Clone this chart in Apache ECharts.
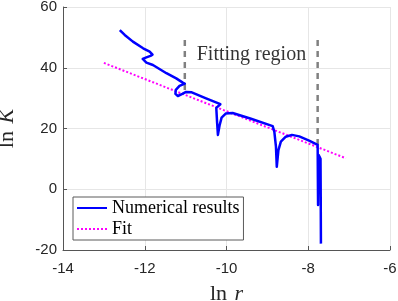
<!DOCTYPE html>
<html>
<head>
<meta charset="utf-8">
<script src="https://cdn.jsdelivr.net/npm/echarts@6/dist/echarts.min.js"></script>
<style>html,body{margin:0;padding:0;background:#fff;}#chart{width:398px;height:301px;}</style>
</head>
<body>
<div id="chart"></div>
<script>
// Numerical results (ln r, ln K), in drawing order
const numX = [-12.61,-12.49,-12.29,-12.04,-11.88,-11.84,-11.81,-11.86,-11.96,-12.05,-12.04,-11.96,-11.80,-11.47,-11.23,-11.07,-11.02,-11.15,-11.24,-11.25,-11.19,-11.08,-11.00,-10.85,-10.50,-10.15,-10.25,-10.23,-10.21,-10.17,-10.12,-10.02,-9.85,-9.40,-8.87,-8.83,-8.79,-8.77,-8.73,-8.67,-8.55,-8.40,-8.22,-7.98,-7.77,-7.765,-7.76,-7.752,-7.745,-7.72,-7.70,-7.695,-7.69];
const numY = [52.4,50.8,48.6,46.4,45.3,44.8,44.3,43.9,43.4,42.9,42.3,41.7,40.9,38.2,36.5,35.1,34.8,34.0,32.7,31.4,30.7,31.4,32.0,31.9,29.9,28.0,26.8,22.0,17.9,21.0,23.6,24.9,25.1,23.2,20.8,19.0,14.0,7.4,12.9,15.7,17.3,17.9,17.4,16.0,14.6,4.0,-5.2,4.0,11.3,11.2,10.0,-2.0,-17.9];
// Linear fit
const fitX = [-13.0, -7.08];
const fitY = [41.6, 10.2];
// Fitting region boundaries
const regionX = [-11.02, -7.77];
const regionTop = [49.1, 49.1];
const regionBottom = [32.0, 14.0];
const regionLabel = 'Fitting region';
const regionLabelPos = [-9.39, 44.2];
// Axes
const xMin = -14, xMax = -6, xStep = 2;
const yMin = -20, yMax = 60, yStep = 20;

const zip = (a, b) => a.map((v, i) => [v, b[i]]);
const serif = '"Liberation Serif", "DejaVu Serif", serif';
const sans = '"Liberation Sans", Arial, sans-serif';

const chart = echarts.init(document.getElementById('chart'), null, {renderer: 'canvas'});
const dashSeries = regionX.map((x, i) => ({
  name: 'region' + i,
  type: 'line',
  data: [[x, regionTop[i]], [x, regionBottom[i]]],
  showSymbol: false,
  symbol: 'none',
  silent: true,
  z: 4,
  lineStyle: {color: '#808080', width: 2.5, type: [6, 5]}
}));

chart.setOption({
  animation: false,
  grid: {left: 63, right: 8, top: 7, bottom: 51, containLabel: false, outerBoundsMode: 'none'},
  legend: {
    data: ['Numerical results', 'Fit'],
    orient: 'vertical',
    left: 73, top: 197,
    padding: [2, 4, 2, 3],
    itemWidth: 30, itemHeight: 14, itemGap: 3,
    backgroundColor: '#fff',
    borderColor: '#5a5a5a', borderWidth: 1, borderRadius: 0,
    textStyle: {fontFamily: serif, fontSize: 18, color: '#000', lineHeight: 18}
  },
  xAxis: {
    type: 'value', min: xMin, max: xMax, interval: xStep,
    name: '{n|ln }{i|r}', nameLocation: 'middle', nameGap: 33,
    nameTextStyle: {rich: {n: {fontFamily: serif, fontSize: 22, color: '#262626'}, i: {fontFamily: serif, fontSize: 22, fontStyle: 'italic', color: '#262626', padding: [0,0,0,2]}}},
    axisLine: {show: true, onZero: false, lineStyle: {color: '#555', width: 1}},
    axisTick: {show: true, inside: true, length: 4, lineStyle: {color: '#555'}},
    axisLabel: {fontFamily: sans, fontSize: 15, color: '#262626', margin: 11},
    splitLine: {show: true, lineStyle: {color: '#e6e6e6', width: 1}}
  },
  yAxis: {
    type: 'value', min: yMin, max: yMax, interval: yStep,
    name: '{n|ln }{i|K}', nameLocation: 'middle', nameGap: 45, nameRotate: 90,
    nameTextStyle: {rich: {n: {fontFamily: serif, fontSize: 22, color: '#262626'}, i: {fontFamily: serif, fontSize: 22, fontStyle: 'italic', color: '#262626', padding: [0,0,0,2]}}},
    axisLine: {show: true, onZero: false, lineStyle: {color: '#555', width: 1}},
    axisTick: {show: true, inside: true, length: 4, lineStyle: {color: '#555'}},
    axisLabel: {fontFamily: sans, fontSize: 15, color: '#262626', margin: 6},
    splitLine: {show: true, lineStyle: {color: '#e6e6e6', width: 1}}
  },
  series: [
    {
      name: 'Fit', type: 'line', data: zip(fitX, fitY),
      showSymbol: false, symbol: 'none', z: 3,
      itemStyle: {color: '#ff00ff', opacity: 0},
      lineStyle: {color: '#ff00ff', width: 2, type: [2, 2]}
    },
    {
      name: 'Numerical results', type: 'line', data: zip(numX, numY),
      showSymbol: false, symbol: 'none', z: 5,
      itemStyle: {color: '#0000ff', opacity: 0},
      lineStyle: {color: '#0000ff', width: 2.5, join: 'round'}
    },
    ...dashSeries,
    {
      name: 'label', type: 'scatter', data: [regionLabelPos],
      symbolSize: 0, silent: true, z: 6,
      label: {show: true, position: 'inside', formatter: regionLabel, fontFamily: serif, fontSize: 20, color: '#000'}
    }
  ]
});
</script>
</body>
</html>
